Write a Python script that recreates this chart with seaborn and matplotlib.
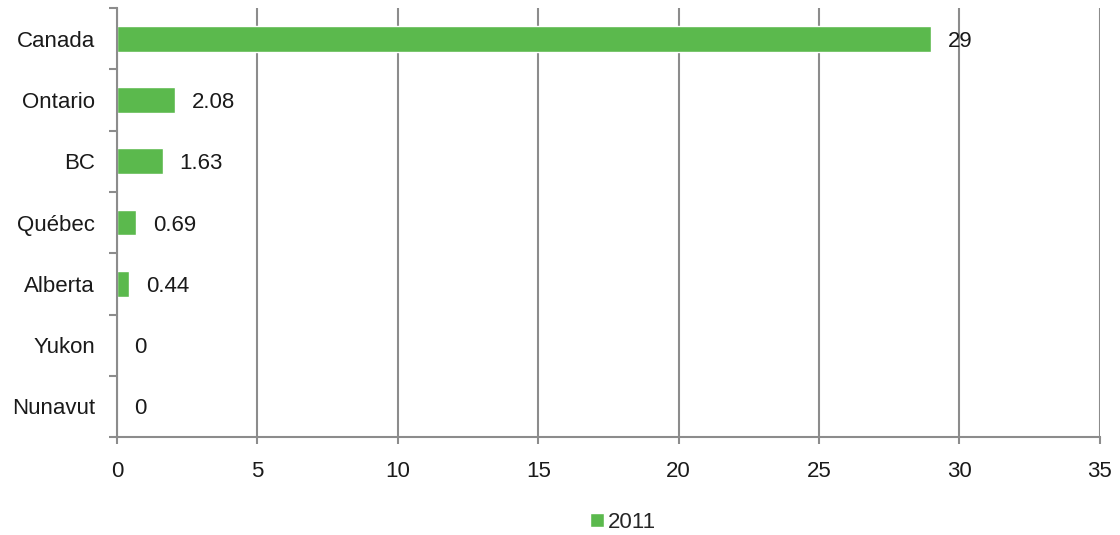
import matplotlib
matplotlib.use("Agg")
import matplotlib.pyplot as plt
import seaborn as sns
import pandas as pd
import numpy as np
from matplotlib.ticker import FixedLocator

categories = ["Canada", "Ontario", "BC", "Québec", "Alberta", "Yukon", "Nunavut"]
values = [29, 2.08, 1.63, 0.69, 0.44, 0, 0]
value_labels = ["29", "2.08", "1.63", "0.69", "0.44", "0", "0"]
series_name = "2011"
x_ticks = [0, 5, 10, 15, 20, 25, 30, 35]

sns.set_theme(style="white")
plt.rcParams['font.family'] = ['Liberation Sans', 'DejaVu Sans']

df = pd.DataFrame({"region": categories, "value": values})

fig = plt.figure(figsize=(11.2, 5.35), dpi=100)
ax = fig.add_axes([0.1045, 0.183, 0.8775, 0.802])

green = "#5BB94D"
grey = "#8C8C8C"
txt = "#1a1a1a"
fs = 16

sns.barplot(data=df, x="value", y="region", orient="h", color=green,
            width=0.42, label=series_name, ax=ax, saturation=1)

ax.set_xlim(0, 35)
ax.set_ylim(6.5, -0.5)
ax.set_xticks(x_ticks)
ax.set_xticklabels([str(t) for t in x_ticks], fontsize=fs, color=txt)
ax.set_xlabel("")
ax.set_ylabel("")
ax.tick_params(axis="y", which="major", length=0, pad=16, labelsize=fs, labelcolor=txt)
ax.yaxis.set_minor_locator(FixedLocator(np.arange(-0.5, 7, 1)))
ax.tick_params(axis="y", which="minor", length=6, width=1.5, color=grey, left=True)
ax.tick_params(axis="x", which="major", length=5, width=1.5, color=grey, bottom=True, pad=12)

ax.grid(axis="x", color=grey, linewidth=1.5)
ax.set_axisbelow(True)
for s in ["top", "right"]:
    ax.spines[s].set_visible(False)
for s in ["left", "bottom"]:
    ax.spines[s].set_color(grey)
    ax.spines[s].set_linewidth(1.5)

for i, (v, lab) in enumerate(zip(values, value_labels)):
    ax.annotate(lab, xy=(v, i), xytext=(12, 0), textcoords="offset points",
                ha="left", va="center_baseline", fontsize=fs, color=txt)

leg = ax.legend(loc="upper center", bbox_to_anchor=(0.515, -0.128), frameon=False,
                fontsize=fs, handlelength=0.6, handleheight=0.6, handletextpad=0.2)

fig.savefig("out.png", dpi=100)
